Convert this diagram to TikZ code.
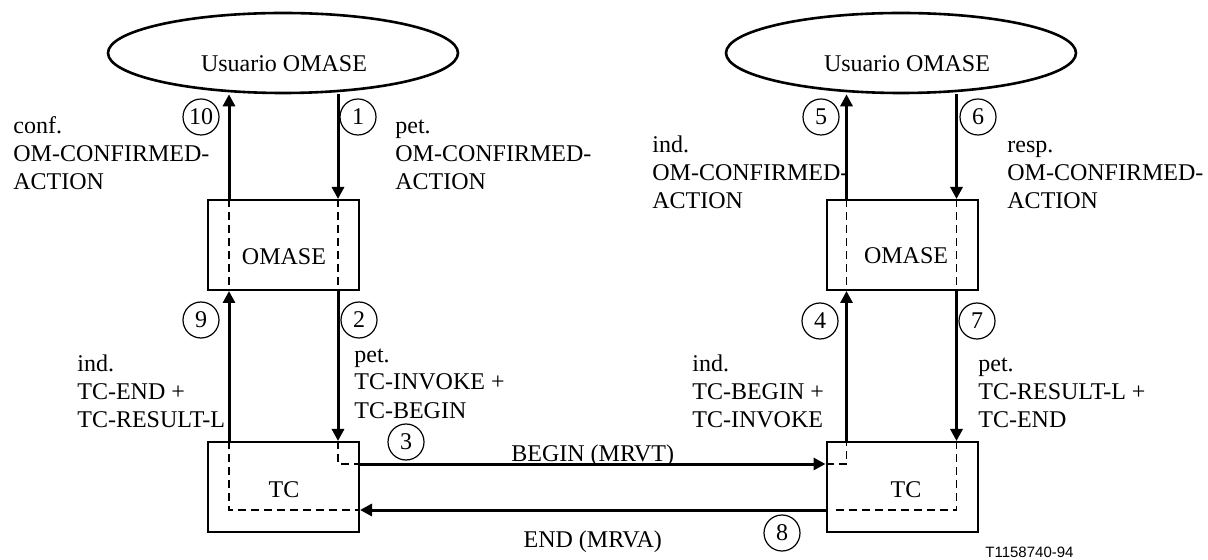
\documentclass[tikz,border=0pt]{standalone}
\usepackage{fontspec}
\setmainfont{Liberation Serif}
\newfontfamily\figsans{Liberation Sans}
\usepackage{tikz}
\usetikzlibrary{shapes,arrows.meta,positioning,calc}
\tikzstyle{user} = [ellipse,draw,line width=1.3pt,minimum width=175pt,minimum height=40pt,inner sep=0pt]
\tikzstyle{entity} = [rectangle,draw,line width=1pt,minimum width=75.5pt,minimum height=45pt,inner sep=0pt]
\tikzstyle{num} = [circle,draw,line width=0.6pt,minimum size=18pt,inner sep=0pt]
\tikzstyle{prim} = [->,line width=1.5pt]
\tikzstyle{flow} = [dashed,dash pattern=on 4pt off 2.5pt,line width=0.6pt]
\tikzstyle{lbl} = [align=left,anchor=base west,inner sep=0pt]
\tikzset{>={Triangle[length=6pt,width=6pt]}}

\begin{document}
\begin{tikzpicture}[x=0.5pt,y=-0.5pt,font=\fontsize{12}{14}\selectfont]
    \useasboundingbox (0,0) rectangle (1208,560);
    % users and entities
    \node [user] (userL) at (283,53) {};
    \node [anchor=base] (userLtxt) at (284,72) {Usuario OMASE};
    \node [user] (userR) at (901,53) {};
    \node [anchor=base] (userRtxt) at (907,72) {Usuario OMASE};
    \node [entity] (omaseL) at (283.5,245) {};
    \node [anchor=base] (omaseLtxt) at (284,265) {OMASE};
    \node [entity] (omaseR) at (902,245) {};
    \node [anchor=base] (omaseRtxt) at (906,264) {OMASE};
    \node [entity] (tcL) at (283.5,487) {};
    \node [anchor=base] (tcLtxt) at (284,497) {TC};
    \node [entity] (tcR) at (902,487) {};
    \node [anchor=base] (tcRtxt) at (906,497) {TC};
    % dashed paths through the entities
    \draw [flow] ([xshift=11pt]omaseL.north west) -- ([xshift=11pt]omaseL.south west);
    \draw [flow] ([xshift=-11pt]omaseL.north east) -- ([xshift=-11pt]omaseL.south east);
    \draw [flow] ([xshift=10.5pt]omaseR.north west) -- ([xshift=10.5pt]omaseR.south west);
    \draw [flow] ([xshift=-11pt]omaseR.north east) -- ([xshift=-11pt]omaseR.south east);
    \draw [flow] ([xshift=11pt]tcL.north west) |- ([yshift=-11.5pt]tcL.east);
    \draw [flow] ([xshift=-11pt]tcL.north east) |- ([yshift=11.5pt]tcL.east);
    \draw [flow] ([yshift=11.5pt]tcR.west) -| ([xshift=10.5pt]tcR.north west);
    \draw [flow] ([xshift=-11pt]tcR.north east) |- ([xshift=5pt,yshift=-11.5pt]tcR.west);
    % primitives
    \draw [prim] ([xshift=-11pt]omaseL.north east |- userL.south) -- ([xshift=-11pt]omaseL.north east);
    \draw [prim] ([xshift=-11pt]omaseL.south east) -- ([xshift=-11pt]tcL.north east);
    \draw [prim] ([xshift=11pt]tcL.north west) -- ([xshift=11pt]omaseL.south west);
    \draw [prim] ([xshift=11pt]omaseL.north west) -- ([xshift=11pt]omaseL.north west |- userL.south);
    \draw [prim] ([xshift=10.5pt]tcR.north west) -- ([xshift=10.5pt]omaseR.south west);
    \draw [prim] ([xshift=10.5pt]omaseR.north west) -- ([xshift=10.5pt]omaseR.north west |- userR.south);
    \draw [prim] ([xshift=-11pt]omaseR.north east |- userR.south) -- ([xshift=-11pt]omaseR.north east);
    \draw [prim] ([xshift=-11pt]omaseR.south east) -- ([xshift=-11pt]tcR.north east);
    % messages
    \draw [prim] ([yshift=11.5pt]tcL.east) -- ([yshift=11.5pt]tcR.west)
        node [midway,anchor=base,yshift=1.5pt] (begin) {BEGIN (MRVT)};
    \draw [prim] ([yshift=-11.5pt]tcR.west) -- ([yshift=-11.5pt]tcL.east)
        node [midway,anchor=base,yshift=-18.5pt] (end) {END (MRVA)};
    % step numbers
    \node [num] (n1) at (358,117) {1};
    \node [num] (n2) at (359,320) {2};
    \node [num] (n3) at (406,442) {3};
    \node [num] (n4) at (820,321) {4};
    \node [num] (n5) at (821,117) {5};
    \node [num] (n6) at (978,117) {6};
    \node [num] (n7) at (977,321) {7};
    \node [num] (n8) at (782,533) {8};
    \node [num] (n9) at (201,320) {9};
    \node [num] (n10) at (201,117) {10};
    % labels (base = last line)
    \node [lbl] (confL) at (13,190) {conf.\\OM-CONFIRMED-\\ACTION};
    \node [lbl] (petL) at (395,190) {pet.\\OM-CONFIRMED-\\ACTION};
    \node [lbl] (indL) at (77,428) {ind.\\TC-END +\\TC-RESULT-L};
    \node [lbl] (petTcL) at (354,418) {pet.\\TC-INVOKE +\\TC-BEGIN};
    \node [lbl] (indR) at (652,209) {ind.\\OM-CONFIRMED-\\ACTION};
    \node [lbl] (respR) at (1007,209) {resp.\\OM-CONFIRMED-\\ACTION};
    \node [lbl] (indTcR) at (692,428) {ind.\\TC-BEGIN +\\TC-INVOKE};
    \node [lbl] (petTcR) at (978,428) {pet.\\TC-RESULT-L +\\TC-END};
    \node [anchor=base west,inner sep=0pt,font=\figsans\fontsize{7.5}{9}\selectfont] (figid) at (985,557) {T1158740-94};
\end{tikzpicture}
\end{document}
